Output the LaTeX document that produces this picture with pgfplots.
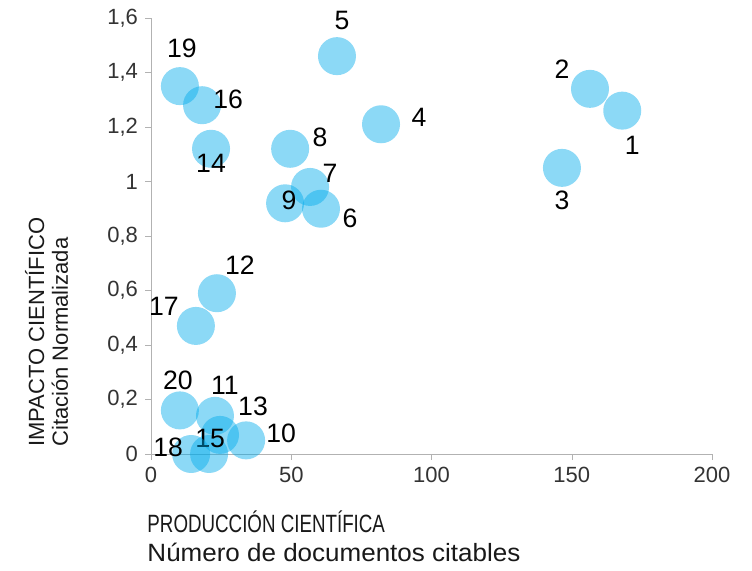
\documentclass[border=0pt]{standalone}
\usepackage{fontspec}
\setmainfont{Liberation Sans}
\newfontfamily\capfont{Liberation Sans}[FakeStretch=0.75]
\newfontfamily\lowfont{Liberation Sans}[FakeStretch=1.04]
\usepackage{pgfplots}
\pgfplotsset{compat=1.18}
\definecolor{bub}{RGB}{0,170,235}
\begin{document}
\begin{tikzpicture}
\pgfplotstableread{
x y lbl dx dy
168 1.26 1 5 -17.5
156.5 1.34 2 -14 10
146.5 1.05 3 0 -16
82 1.21 4 19 3.5
66.3 1.46 5 2.5 18
60.6 0.90 6 14.5 -5
56.7 0.98 7 10 7
49.6 1.12 8 15 5.5
47.8 0.92 9 2 1.5
33.9 0.05 10 17.5 3.5
22.8 0.14 11 5 15
23.5 0.59 12 11.5 14
24.6 0.07 13 16.5 14.5
21.4 1.12 14 0 -7.5
20.7 0.00 15 0.5 8
18.2 1.28 16 13 3
16.0 0.47 17 -16 10
14.3 0.00 18 -11.5 3.5
10.3 1.35 19 1 19
10.3 0.16 20 -1 15
}\data
\begin{axis}[
 scale only axis, width=280.5pt, height=218pt,
 xmin=0, xmax=200, ymin=0, ymax=1.6,
 axis x line*=bottom, axis y line*=left,
 axis line style={draw=gray!60, -},
 xtick={0,50,100,150,200}, ytick={0,0.2,0.4,0.6,0.8,1,1.2,1.4,1.6},
 tick align=outside, major tick length=3pt, tick style={draw=gray!60},
 /pgf/number format/assume math mode=true,
 /pgf/number format/use comma, /pgf/number format/fixed,
 /pgf/number format/precision=1,
 ticklabel style={font=\fontsize{11}{13}\selectfont, text=black!80},
 clip=false,
]
\addplot[only marks, mark=*, mark size=9.5pt, color=bub,
  mark options={draw opacity=0, fill=bub, fill opacity=0.45},
  point meta=explicit symbolic, nodes near coords,
  visualization depends on={\thisrow{dx}\as\dx},
  visualization depends on={\thisrow{dy}\as\dy},
  every node near coord/.append style={anchor=center, xshift=\dx pt, yshift=\dy pt,
    font=\fontsize{13.3}{15}\selectfont, text=black, opacity=1, text opacity=1}]
  table[x=x, y=y, meta=lbl]{\data};
\node[rotate=90, anchor=base west, inner sep=0, font=\fontsize{11}{13}\selectfont, text=black!90]
  at (axis description cs:-0.1907,0.016) {IMPACTO CIENTÍFICO};
\node[rotate=90, anchor=base west, inner sep=0, font=\fontsize{11}{13}\selectfont, text=black!90]
  at (axis description cs:-0.1480,0.016) {Citación Normalizada};
\node[anchor=base west, inner sep=0, font=\capfont\fontsize{12.5}{14}\selectfont, text=black!90]
  at (axis description cs:-0.007,-0.1812) {PRODUCCIÓN CIENTÍFICA};
\node[anchor=base west, inner sep=0, font=\lowfont\fontsize{12.5}{14}\selectfont, text=black!90]
  at (axis description cs:-0.007,-0.2477) {Número de documentos citables};
\coordinate (BL) at (axis description cs:-0.2692,-0.2683);
\coordinate (TR) at (axis description cs:1.0713,1.0413);
\end{axis}
\path (BL) rectangle (TR);
\end{tikzpicture}
\end{document}
